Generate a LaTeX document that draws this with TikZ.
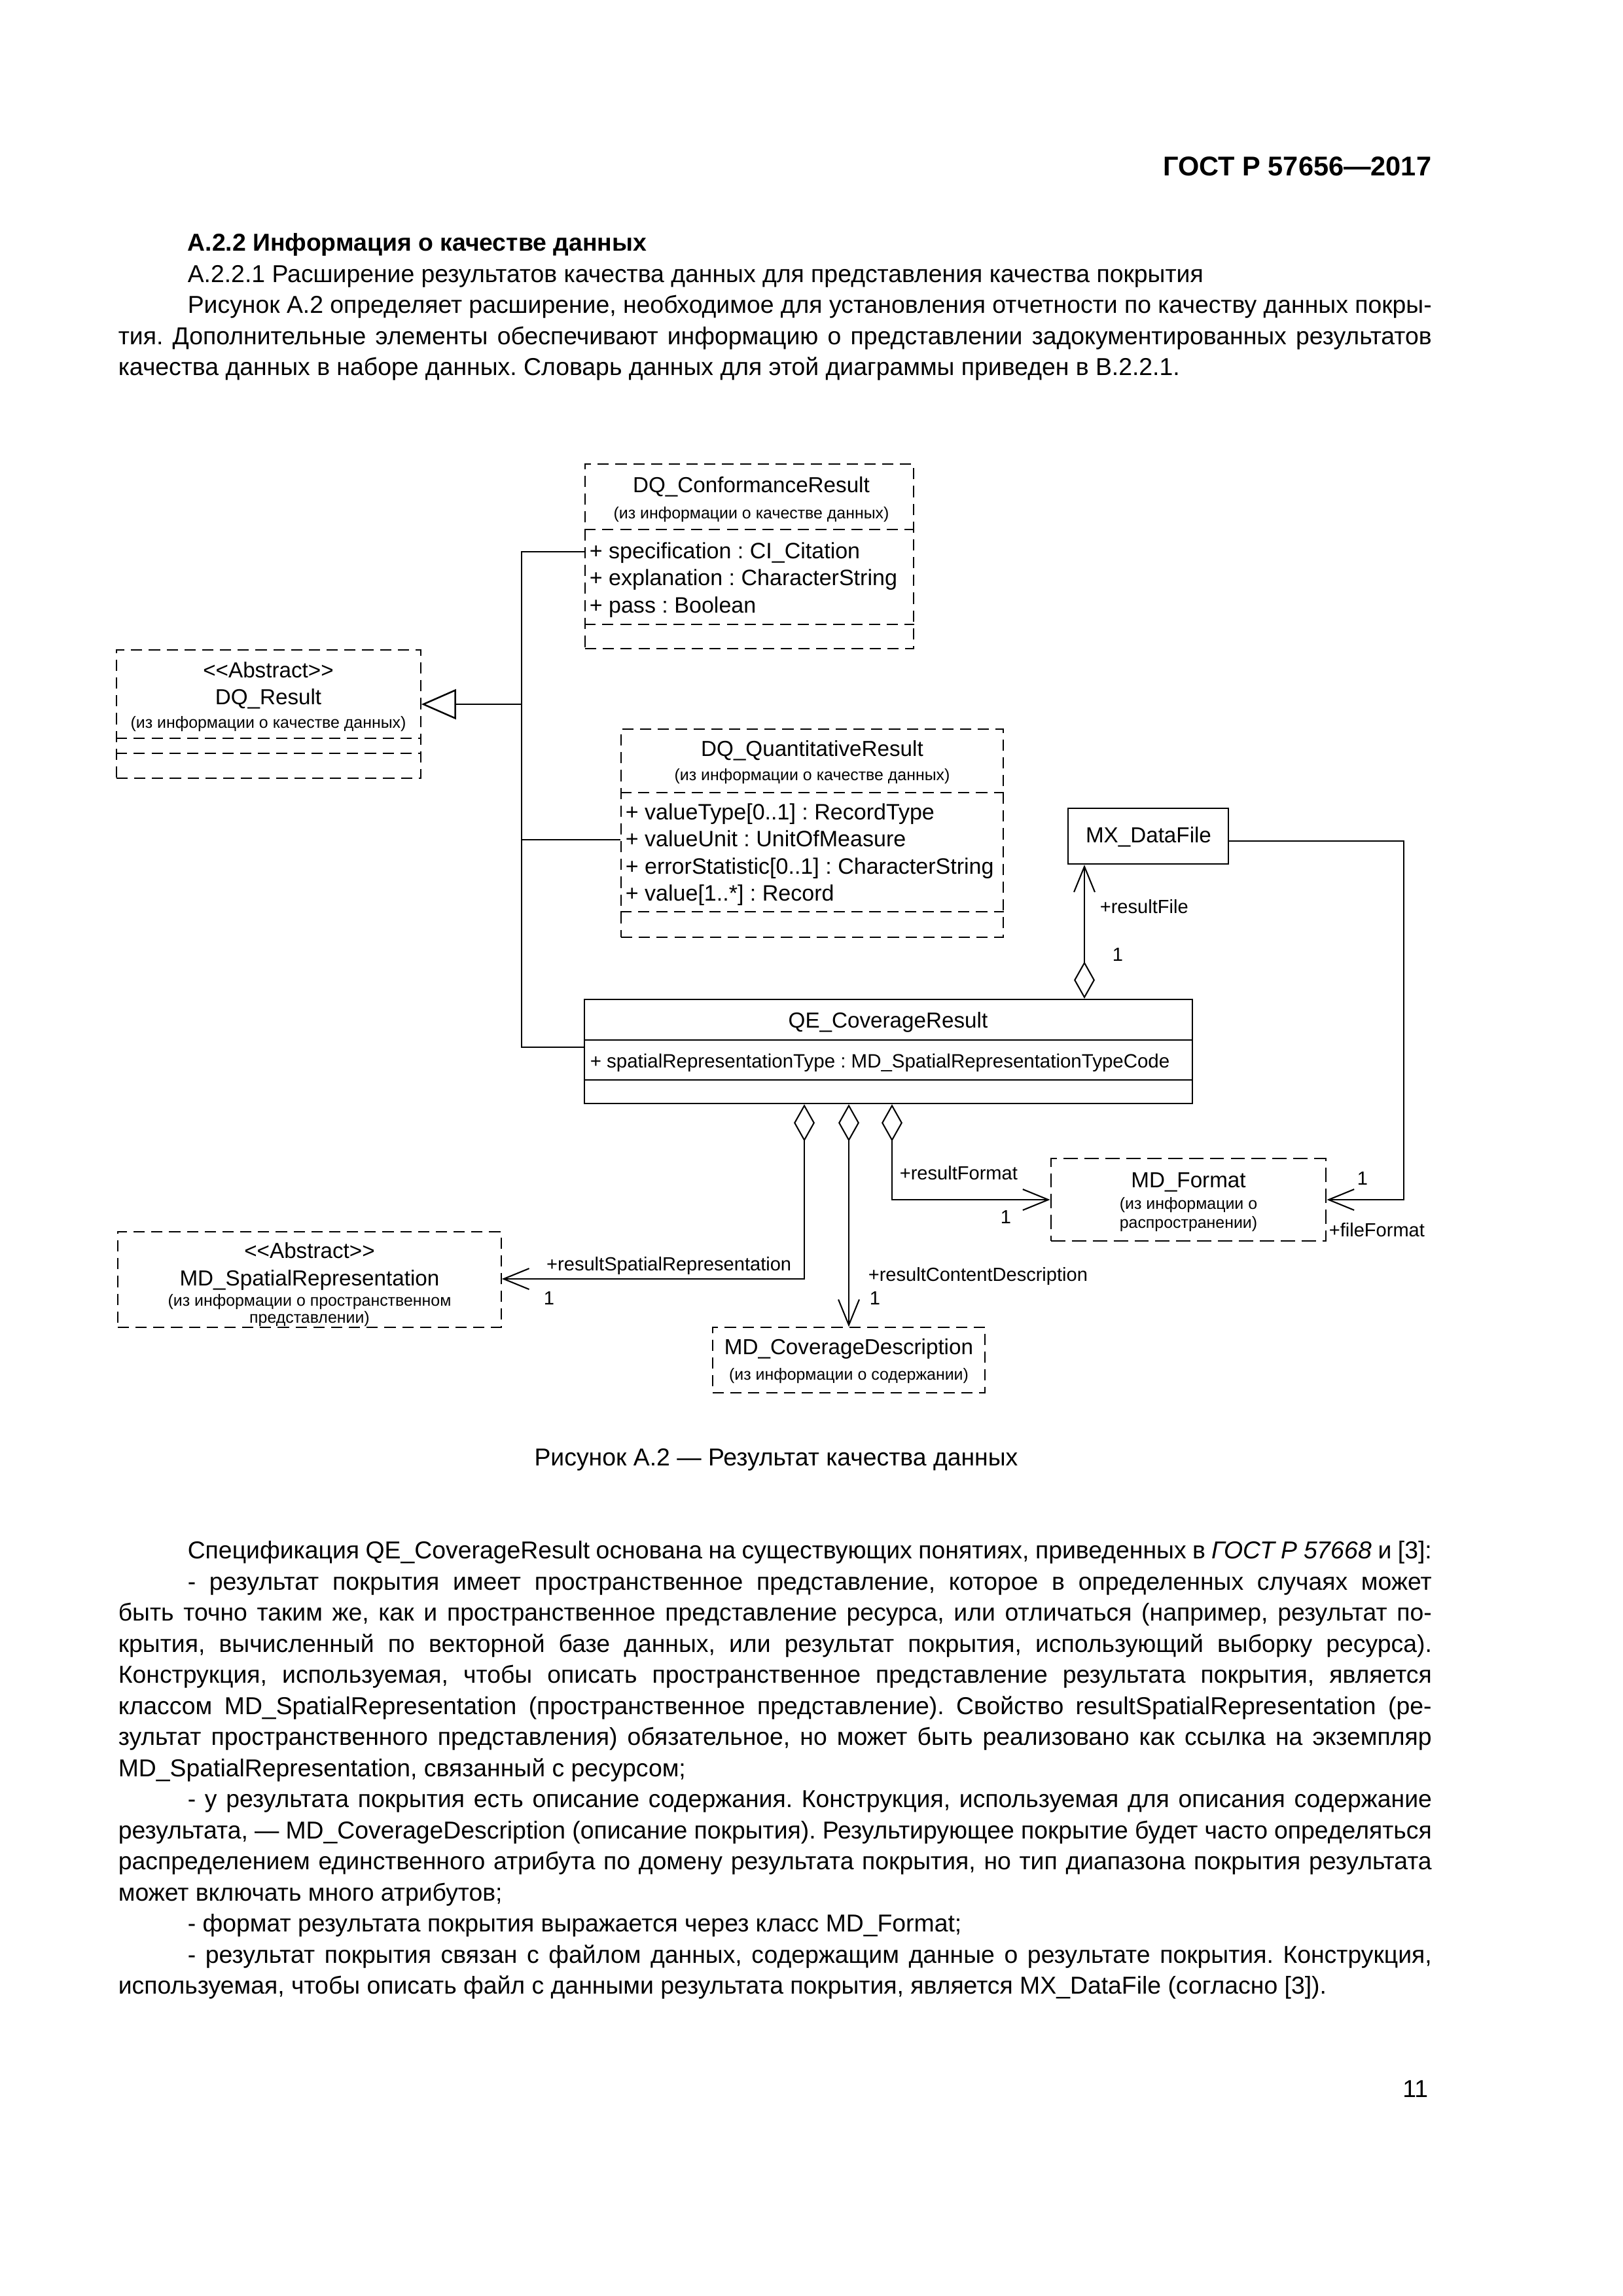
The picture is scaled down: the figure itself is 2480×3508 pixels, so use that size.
\documentclass[tikz,border=0pt]{standalone}
\usepackage{fontspec}
\setmainfont{Liberation Sans}[Ligatures=TeXOff]
\usetikzlibrary{arrows.meta,fit}
\newlength\tw
\setlength\tw{169.93mm}
\newcommand\jl[1]{\hbox to\tw{#1}}
\newcommand\rl[1]{\hbox to\tw{#1\hfil}}
\newcommand\ind{\hskip8.97mm}
\frenchspacing

\begin{document}
\begin{tikzpicture}[%
  x=0.0846667mm, y=-0.0846667mm,
  txt/.style={inner sep=0pt, text height=5pt, text depth=0pt},
  body/.style={inner sep=0pt, text height=.72em, text depth=0pt, anchor=west, font=\fontsize{9}{11}\selectfont},
  dbox/.style={draw, inner sep=0pt, line width=.4pt, dash pattern=on 1.45mm off .85mm},
  fbox/.style={draw, inner sep=0pt, line width=.7pt, dash pattern=on 1.85mm off .85mm},
  sbox/.style={draw, inner sep=0pt, line width=.6pt},
  ddiv/.style={line width=.4pt, dash pattern=on 1.45mm off .85mm},
  sdiv/.style={line width=.6pt},
  cname/.style={txt, font=\fontsize{8}{9.6}\selectfont},
  csub/.style={txt, font=\fontsize{6}{7}\selectfont},
  cattr/.style={txt, anchor=west, font=\fontsize{8.2}{10}\selectfont},
  lbl/.style={txt, font=\fontsize{7}{8.4}\selectfont},
  link/.style={line width=.5pt},
  gen/.style={line width=.6pt},
  agg/.style={link, {Diamond[open, length=4.8mm, width=2.7mm]}-{Straight Barb[length=3.3mm, width=2.7mm]}},
  nav/.style={link, -{Straight Barb[length=3.3mm, width=2.7mm]}}]
\fill[white] (0,0) rectangle (2480,3508);
\useasboundingbox (0,0) rectangle (2480,3508);

\node[body, anchor=east, font=\fontsize{10}{12}\selectfont\bfseries] (hdr) at (2188,254) {ГОСТ Р 57656—2017};
\node[body, font=\fontsize{9}{11}\selectfont\bfseries] (h1) at (180,369) {\rl{\ind А.2.2 Информация о качестве данных}};
\node[body] (p1) at (180,416.5) {\rl{\ind А.2.2.1 Расширение результатов качества данных для представления качества покрытия}};
\node[body] (p2) at (180,464) {\jl{\ind Рисунок А.2 определяет расширение, необходимое для установления отчетности по качеству данных покры-}};
\node[body] (p3) at (180,511.5) {\jl{тия. Дополнительные элементы обеспечивают информацию о представлении задокументированных результатов}};
\node[body] (p4) at (180,559) {\rl{качества данных в наборе данных. Словарь данных для этой диаграммы приведен в В.2.2.1.}};

\node[dbox, fit={(894,709) (1396,991)}] (conf) {};
\draw[ddiv] (conf.west |- 0,809) -- (conf.east |- 0,809);
\draw[ddiv] (conf.west |- 0,954) -- (conf.east |- 0,954);
\node[cname] (confn) at (1148,742) {DQ\_ConformanceResult};
\node[csub] (confs) at (1148,782) {(из информации о качестве данных)};
\node[cattr] (conf1) at (900,843) {+ specification : CI\_Citation};
\node[cattr] (conf2) at (900,884) {+ explanation : CharacterString};
\node[cattr] (conf3) at (900,926) {+ pass : Boolean};

\node[dbox, fit={(178,993) (643,1189)}] (dqres) {};
\draw[ddiv] (dqres.west |- 0,1128) -- (dqres.east |- 0,1128);
\draw[ddiv] (dqres.west |- 0,1151) -- (dqres.east |- 0,1151);
\node[cname] (dqresa) at (410,1025) {<<Abstract>>};
\node[cname] (dqresn) at (410,1066) {DQ\_Result};
\node[csub] (dqress) at (410,1102) {(из информации о качестве данных)};

\node[dbox, fit={(949,1114) (1533,1432)}] (quant) {};
\draw[ddiv] (quant.west |- 0,1211) -- (quant.east |- 0,1211);
\draw[ddiv] (quant.west |- 0,1393) -- (quant.east |- 0,1393);
\node[cname] (quantn) at (1241,1145) {DQ\_QuantitativeResult};
\node[csub] (quants) at (1241,1182) {(из информации о качестве данных)};
\node[cattr] (quant1) at (955,1242) {+ valueType[0..1] : RecordType};
\node[cattr] (quant2) at (955,1283) {+ valueUnit : UnitOfMeasure};
\node[cattr] (quant3) at (955,1325) {+ errorStatistic[0..1] : CharacterString};
\node[cattr] (quant4) at (955,1366) {+ value[1..*] : Record};

\node[sbox, fit={(1632,1235) (1877,1320)}] (mx) {};
\node[cname] (mxn) at (1755,1277) {MX\_DataFile};

\node[sbox, fit={(893,1527) (1822,1686)}] (qe) {};
\draw[sdiv] (qe.west |- 0,1589) -- (qe.east |- 0,1589);
\draw[sdiv] (qe.west |- 0,1650) -- (qe.east |- 0,1650);
\node[cname] (qen) at (1357,1560) {QE\_CoverageResult};
\node[txt, anchor=west, font=\fontsize{7.1}{8.5}\selectfont] (qe1) at (901,1621) {+ spatialRepresentationType : MD\_SpatialRepresentationTypeCode};

\node[fbox, fit={(1606,1770) (2026,1896)}] (fmt) {};
\node[cname] (fmtn) at (1816,1804) {MD\_Format};
\node[csub] (fmts1) at (1816,1837) {(из информации о};
\node[csub] (fmts2) at (1816,1866) {распространении)};

\node[dbox, fit={(180,1882) (766,2028)}] (spat) {};
\node[cname] (spata) at (473,1912) {<<Abstract>>};
\node[cname] (spatn) at (473,1954) {MD\_SpatialRepresentation};
\node[csub] (spats1) at (473,1985) {(из информации о пространственном};
\node[csub] (spats2) at (473,2011) {представлении)};

\node[dbox, fit={(1089,2028) (1505,2128)}] (cov) {};
\node[cname] (covn) at (1297,2059) {MD\_CoverageDescription};
\node[csub] (covs) at (1297,2098) {(из информации о содержании)};

\coordinate (trunk) at (797,1076);
\draw[gen] (conf.west |- 0,843) -| (trunk);
\draw[gen] (quant.west |- 0,1283) -| (trunk);
\draw[gen] (qe.west |- 0,1600) -| (trunk);
\draw[gen, -{Triangle[open, length=4.5mm, width=3.9mm]}] (trunk) -- (dqres.east |- trunk);

\draw[agg] (1657,0 |- qe.north) -- (1657,0 |- mx.south);
\node[lbl, anchor=west] (rfile) at (1680,1385) {+resultFile};
\node[lbl, anchor=west] (rfile1) at (1699,1458) {1};

\draw[agg] (1229,0 |- qe.south) |- (spat.east |- 0,1954);
\node[lbl, anchor=east] (rspat) at (1210,1931) {+resultSpatialRepresentation};
\node[lbl, anchor=west] (rspat1) at (830,1983) {1};

\draw[agg] (1297,0 |- qe.south) -- (1297,0 |- cov.north);
\node[lbl, anchor=west] (rcont) at (1326,1947) {+resultContentDescription};
\node[lbl, anchor=west] (rcont1) at (1328,1983) {1};

\draw[agg] (1363,0 |- qe.south) |- (fmt.west |- 0,1833);
\node[lbl, anchor=west] (rfmt) at (1374,1792) {+resultFormat};
\node[lbl] (rfmt1) at (1537,1859) {1};

\coordinate (fbend) at (2145,1833);
\draw[nav] (mx.east |- 0,1285) -| (fbend) -- (fmt.east |- fbend);
\node[lbl] (ffile1) at (2082,1800) {1};
\node[lbl, anchor=west] (ffile) at (2030,1879) {+fileFormat};

\node[body, anchor=center] (cap) at (1186,2225) {Рисунок А.2 — Результат качества данных};

\node[body] (b1) at (180,2367) {\jl{\ind Спецификация QE\_CoverageResult основана на существующих понятиях, приведенных в {\itshape ГОСТ Р 57668} и [3]:}};
\node[body] (b2) at (180,2414.5) {\jl{\ind - результат покрытия имеет пространственное представление, которое в определенных случаях может}};
\node[body] (b3) at (180,2462) {\jl{быть точно таким же, как и пространственное представление ресурса, или отличаться (например, результат по-}};
\node[body] (b4) at (180,2509.5) {\jl{крытия, вычисленный по векторной базе данных, или результат покрытия, использующий выборку ресурса).}};
\node[body] (b5) at (180,2557) {\jl{Конструкция, используемая, чтобы описать пространственное представление результата покрытия, является}};
\node[body] (b6) at (180,2604.5) {\jl{классом MD\_SpatialRepresentation (пространственное представление). Свойство resultSpatialRepresentation (ре-}};
\node[body] (b7) at (180,2652) {\jl{зультат пространственного представления) обязательное, но может быть реализовано как ссылка на экземпляр}};
\node[body] (b8) at (180,2699.5) {\rl{MD\_SpatialRepresentation, связанный с ресурсом;}};
\node[body] (b9) at (180,2747) {\jl{\ind - у результата покрытия есть описание содержания. Конструкция, используемая для описания содержание}};
\node[body] (b10) at (180,2794.5) {\jl{результата, — MD\_CoverageDescription (описание покрытия). Результирующее покрытие будет часто определяться}};
\node[body] (b11) at (180,2842) {\jl{распределением единственного атрибута по домену результата покрытия, но тип диапазона покрытия результата}};
\node[body] (b12) at (180,2889.5) {\rl{может включать много атрибутов;}};
\node[body] (b13) at (180,2937) {\rl{\ind - формат результата покрытия выражается через класс MD\_Format;}};
\node[body] (b14) at (180,2984.5) {\jl{\ind - результат покрытия связан с файлом данных, содержащим данные о результате покрытия. Конструкция,}};
\node[body] (b15) at (180,3032) {\rl{используемая, чтобы описать файл с данными результата покрытия, является MX\_DataFile (согласно [3]).}};
\node[body, anchor=east] (pg) at (2183,3190) {11};
\end{tikzpicture}
\end{document}
